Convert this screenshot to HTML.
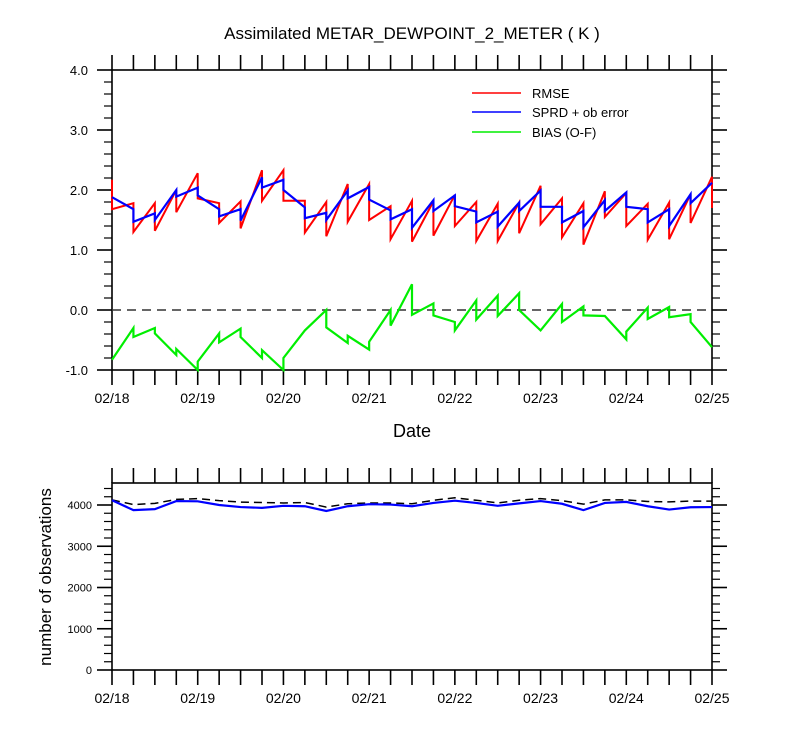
<!DOCTYPE html>
<html><head><meta charset="utf-8"><style>
body{margin:0;background:#fff;}
svg{display:block;font-family:"Liberation Sans",sans-serif;}
</style></head><body>
<svg id="chart" width="800" height="750"></svg>
<script>
// 6-hourly times (index 0..28 = 02/18 00Z .. 02/25 00Z)
const dayLabels = ["02/18","02/19","02/20","02/21","02/22","02/23","02/24","02/25"];
const rmsePrior = [2.17,1.78,1.78,2.0,2.28,1.78,1.81,2.33,2.33,1.82,1.8,2.1,2.1,1.73,1.82,1.81,1.92,1.8,1.77,1.79,2.07,1.86,1.78,1.98,1.95,1.77,1.79,1.93,2.22];
const rmsePost  = [1.68,1.30,1.32,1.63,1.86,1.45,1.36,1.82,1.82,1.29,1.23,1.47,1.5,1.18,1.14,1.24,1.4,1.15,1.15,1.28,1.43,1.21,1.09,1.55,1.4,1.17,1.18,1.45,1.7];
const sprdPrior = [1.88,1.68,1.61,2.0,2.04,1.68,1.68,2.21,2.17,1.71,1.62,1.99,2.05,1.66,1.68,1.83,1.91,1.64,1.64,1.79,1.99,1.72,1.65,1.83,1.96,1.68,1.68,1.93,2.12];
const sprdPost  = [1.88,1.47,1.5,1.89,1.91,1.56,1.49,2.04,2.0,1.53,1.5,1.86,1.84,1.51,1.37,1.65,1.73,1.46,1.39,1.65,1.72,1.46,1.38,1.65,1.72,1.46,1.4,1.78,2.12];
const biasPrior = [-0.83,-0.3,-0.3,-0.75,-1.0,-0.39,-0.31,-0.8,-1.0,-0.34,0.0,-0.55,-0.66,0.0,0.43,0.11,-0.2,0.16,0.24,0.28,-0.34,0.1,0.06,-0.1,-0.49,0.04,0.05,-0.07,-0.62];
const biasPost  = [-0.83,-0.45,-0.39,-0.65,-0.86,-0.54,-0.45,-0.67,-0.8,-0.34,-0.29,-0.43,-0.53,-0.26,-0.08,-0.09,-0.34,-0.16,-0.1,0.0,-0.34,-0.2,-0.09,-0.1,-0.36,-0.15,-0.12,-0.2,-0.62];
const obsUsed  = [4115,3875,3900,4095,4090,4000,3950,3930,3980,3970,3855,3970,4020,4010,3970,4050,4105,4050,3980,4040,4095,4030,3875,4050,4075,3970,3890,3945,3950];
const obsTotal = [4125,4010,4040,4135,4155,4105,4070,4060,4050,4060,3950,4030,4050,4050,4030,4115,4175,4115,4050,4115,4155,4105,4020,4125,4125,4085,4075,4095,4095];
const topTicks = ["4.0","3.0","2.0","1.0","0.0","-1.0"];
const topTickVals = [4,3,2,1,0,-1];
const botTicks = ["4000","3000","2000","1000","0"];
const botTickVals = [4000,3000,2000,1000,0];

const NS="http://www.w3.org/2000/svg";
const svg=document.getElementById('chart');
function mk(tag,attrs,parent){const e=document.createElementNS(NS,tag);for(const k in attrs)e.setAttribute(k,attrs[k]);(parent||svg).appendChild(e);return e;}
const X0=112,X1=712;
const xs=i=>X0+(X1-X0)*i/28;
const yT=v=>70+(4-v)*60;
const yB=v=>670-v*0.04125;

function frame(top,bot,name){
  const g=mk('g',{});
  
  
  mk('rect',{x:X0,y:top,width:X1-X0,height:bot-top,fill:'none',stroke:'#000','stroke-width':1.6},g);
  for(let i=0;i<=28;i++){
    const x=xs(i);
    mk('line',{x1:x,y1:top-15,x2:x,y2:top,stroke:'#000','stroke-width':1.6},g);
    mk('line',{x1:x,y1:bot,x2:x,y2:bot+15,stroke:'#000','stroke-width':1.6},g);
  }
  dayLabels.forEach((d,k)=>{
    const t=mk('text',{x:X0+k*600/7,y:bot+33,'text-anchor':'middle','font-size':14},g);
    t.textContent=d;
    
    
  });
  return g;
}

// title
let t=mk('text',{x:412,y:39,'text-anchor':'middle','font-size':17});
t.textContent="Assimilated METAR_DEWPOINT_2_METER ( K )";



// top panel
const g1=frame(70,370,'top-panel');
topTickVals.forEach((v,k)=>{
  const y=yT(v);
  mk('line',{x1:97,y1:y,x2:112,y2:y,stroke:'#000','stroke-width':1.6},g1);
  mk('line',{x1:712,y1:y,x2:727,y2:y,stroke:'#000','stroke-width':1.6},g1);
  const l=mk('text',{x:88,y:y+5,'text-anchor':'end','font-size':13},g1);
  l.textContent=topTicks[k];
  
  
  if(k<topTickVals.length-1){for(let m=1;m<5;m++){const yy=y+m*12;
    mk('line',{x1:104,y1:yy,x2:112,y2:yy,stroke:'#000','stroke-width':1.2},g1);
    mk('line',{x1:712,y1:yy,x2:720,y2:yy,stroke:'#000','stroke-width':1.2},g1);}}
});
const zl=mk('line',{x1:X0,y1:yT(0),x2:X1,y2:yT(0),stroke:'#333','stroke-width':1.6,'stroke-dasharray':'9,6'});



function sawPath(a,b){let d='';for(let i=0;i<a.length;i++){d+=(i?'L':'M')+xs(i)+','+yT(a[i])+'L'+xs(i)+','+yT(b[i]);}return d;}
let p=mk('path',{d:sawPath(rmsePrior,rmsePost),fill:'none',stroke:'#ff0000','stroke-width':2});


p=mk('path',{d:sawPath(sprdPrior,sprdPost),fill:'none',stroke:'#0000ff','stroke-width':2.2});


p=mk('path',{d:sawPath(biasPrior,biasPost),fill:'none',stroke:'#00ee00','stroke-width':2.2});



// legend
[["RMSE","#ff0000",93],["SPRD + ob error","#0000ff",112],["BIAS (O-F)","#00ee00",132]].forEach(e=>{
  const g=mk('g',{});
  
  
  mk('line',{x1:472,y1:e[2],x2:521,y2:e[2],stroke:e[1],'stroke-width':1.5},g);
  const tt=mk('text',{x:532,y:e[2]+5,'font-size':13},g);tt.textContent=e[0];
});
t=mk('text',{x:412,y:437,'text-anchor':'middle','font-size':18});
t.textContent="Date";



// bottom panel
const g2=frame(483,670,'bottom-panel');
botTickVals.forEach((v,k)=>{
  const y=yB(v);
  mk('line',{x1:97,y1:y,x2:112,y2:y,stroke:'#000','stroke-width':1.6},g2);
  mk('line',{x1:712,y1:y,x2:727,y2:y,stroke:'#000','stroke-width':1.6},g2);
  const l=mk('text',{x:92,y:y+4,'text-anchor':'end','font-size':11},g2);
  l.textContent=botTicks[k];
  
  
});
for(let v=200;v<4550;v+=200){if(v%1000){const y=yB(v);
  mk('line',{x1:104,y1:y,x2:112,y2:y,stroke:'#000','stroke-width':1.2},g2);
  mk('line',{x1:712,y1:y,x2:720,y2:y,stroke:'#000','stroke-width':1.2},g2);}}
function linePath(a){return a.map((v,i)=>(i?'L':'M')+xs(i)+','+yB(v)).join('');}
p=mk('path',{d:linePath(obsTotal),fill:'none',stroke:'#000','stroke-width':1.5,'stroke-dasharray':'8,5'});


p=mk('path',{d:linePath(obsUsed),fill:'none',stroke:'#0000ff','stroke-width':2.2});


t=mk('text',{x:0,y:0,'text-anchor':'middle','font-size':17,transform:'translate(51,577) rotate(-90)'});
t.textContent="number of observations";


</script>
</body></html>
